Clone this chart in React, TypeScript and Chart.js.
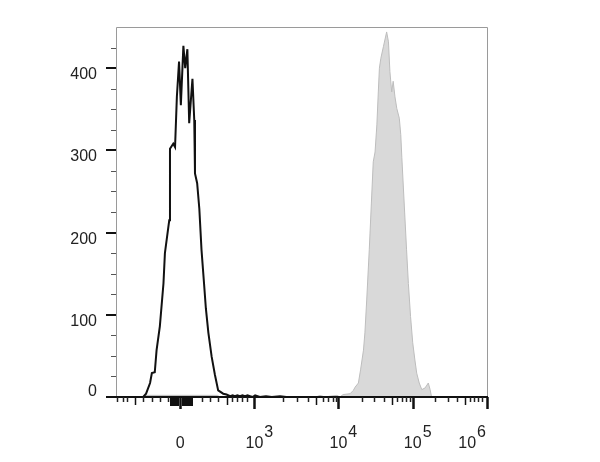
import React, { useEffect, useRef } from "react";
import { Chart, registerables } from "chart.js";

Chart.register(...registerables);

// Histogram bins on a 1024-channel biexponential display axis
const blackChannels = [0, 75, 83, 94, 99, 107, 112, 121, 131, 135, 144, 147, 149, 158, 163, 168, 174, 179, 186, 191, 197, 202, 211, 216, 218, 224, 230, 236, 243, 248, 255, 264, 273, 282, 296, 305, 315, 322, 328, 335, 342, 349, 356, 363, 370, 377, 384, 397, 414, 430, 453, 470, 1024];
const blackCounts = [0, 0, 4, 17, 29, 30, 57, 86, 138, 175, 205, 215, 302, 308, 304, 365, 408, 355, 427, 400, 423, 333, 387, 337, 272, 260, 229, 179, 138, 108, 78, 49, 27, 8, 4, 3, 1, 2, 1, 2, 1, 2, 1, 2, 1, 0, 2, 0, 1, 0, 1, 0, 0];

const grayChannels = [0, 75, 80, 280, 287, 552, 563, 577, 591, 610, 618, 627, 646, 655, 660, 669, 675, 683, 687, 692, 699, 710, 715, 720, 724, 727, 731, 738, 747, 752, 756, 761, 765, 770, 775, 782, 786, 789, 802, 807, 813, 819, 825, 830, 837, 844, 853, 862, 867, 871, 1024];
const grayCounts = [0, 0, 2, 2, 0, 0, 2, 0, 1, 2, 0, 3, 4, 8, 12, 17, 33, 57, 78, 118, 179, 286, 298, 331, 371, 400, 412, 426, 444, 432, 396, 371, 384, 365, 351, 339, 319, 291, 179, 138, 98, 66, 45, 29, 17, 9, 11, 17, 9, 0, 0];

// Axis ticks
const yMajorTicks = [0, 100, 200, 300, 400];
const yMinorTicks = [25, 50, 75, 125, 150, 175, 225, 250, 275, 325, 350, 375, 425];
const xMajorTicks = [177, 382, 614, 819, 1024];
const xMajorBase = ["0", "10", "10", "10", "10"];
const xMajorExp = ["", "3", "4", "5", "6"];
const xMidTicks = [52, 306, 552, 762, 963];
const xMinorTicks = [4, 18, 31, 75, 99, 121, 144, 237, 259, 282, 319, 333, 347, 361, 461, 500, 530, 571, 585, 599, 607, 679, 712, 740, 776, 789, 800, 811, 880, 916, 941, 977, 988, 999, 1010];
const xDenseTicks = [152, 157, 163, 168, 185, 190, 196, 201, 207];

const X_MIN = 0;
const X_MAX = 1024;
const Y_MIN = 0;
const Y_MAX = 450;

const FONT = '16px "Liberation Sans", Arial, sans-serif';

const axesPlugin = {
  id: "flowAxes",
  afterDatasetsDraw(chart: any) {
    const { ctx, chartArea, scales } = chart;
    const { left, right, top, bottom } = chartArea;
    const xs = scales.x;
    const ys = scales.y;
    ctx.save();

    // frame (gray)
    ctx.strokeStyle = "#9a9a9a";
    ctx.lineWidth = 1;
    ctx.beginPath();
    ctx.moveTo(left + 0.5, bottom);
    ctx.lineTo(left + 0.5, top + 0.5);
    ctx.lineTo(right + 0.5, top + 0.5);
    ctx.lineTo(right + 0.5, bottom);
    ctx.stroke();

    // bottom axis (black)
    ctx.strokeStyle = "#111";
    ctx.lineWidth = 2;
    ctx.beginPath();
    ctx.moveTo(left, bottom);
    ctx.lineTo(right + 1, bottom);
    ctx.stroke();

    // y ticks
    const drawY = (v: number, len: number, w: number, color: string) => {
      const py = Math.round(ys.getPixelForValue(v)) + (w % 2 ? 0.5 : 0);
      ctx.strokeStyle = color;
      ctx.lineWidth = w;
      ctx.beginPath();
      ctx.moveTo(left - len, py);
      ctx.lineTo(left, py);
      ctx.stroke();
    };
    yMinorTicks.forEach((v) => drawY(v, 5, 1, "#555"));
    yMajorTicks.forEach((v) => drawY(v, 10, 2, "#111"));

    // y labels
    ctx.font = FONT;
    ctx.fillStyle = "#222";
    ctx.textAlign = "right";
    ctx.textBaseline = "alphabetic";
    yMajorTicks.forEach((v) => {
      let cy = ys.getPixelForValue(v) + 5;
      if (cy > bottom - 8) cy = bottom - 7;
      ctx.fillText(String(v), left - 19, cy + 6);
    });

    // x ticks
    const drawX = (v: number, len: number, w: number, color: string) => {
      const px = Math.round(xs.getPixelForValue(v)) + (w % 2 ? 0.5 : 0);
      ctx.strokeStyle = color;
      ctx.lineWidth = w;
      ctx.beginPath();
      ctx.moveTo(px, bottom);
      ctx.lineTo(px, bottom + len);
      ctx.stroke();
    };
    xMinorTicks.forEach((v) => drawX(v, 5, 1.5, "#222"));
    xMidTicks.forEach((v) => drawX(v, 8, 1.5, "#111"));
    xDenseTicks.forEach((v) => drawX(v, 9, 3, "#111"));
    xMajorTicks.forEach((v) => drawX(v, 12, 2.5, "#111"));

    // x labels: base + superscript exponent
    ctx.font = FONT;
    ctx.fillStyle = "#222";
    ctx.textAlign = "left";
    const baseY = bottom + 51;
    const expY = bottom + 40;
    xMajorTicks.forEach((v, i) => {
      const base = xMajorBase[i];
      const exp = xMajorExp[i];
      const bw = ctx.measureText(base).width;
      const ew = exp ? ctx.measureText(exp).width + 1 : 0;
      const px = xs.getPixelForValue(v);
      let x0 = px - bw / 2;
      if (x0 + bw + ew > right - 1) x0 = right - 1 - bw - ew;
      ctx.fillText(base, x0, baseY);
      if (exp) ctx.fillText(exp, x0 + bw + 1, expY);
    });

    ctx.restore();
  },
};

export default function App() {
  const canvasRef = useRef<HTMLCanvasElement | null>(null);

  useEffect(() => {
    if (!canvasRef.current) return;
    const blackData = blackChannels.map((x, i) => ({ x, y: blackCounts[i] }));
    const grayData = grayChannels.map((x, i) => ({ x, y: grayCounts[i] }));
    const chart = new Chart(canvasRef.current, {
      type: "line",
      data: {
        datasets: [
          {
            label: "Control",
            data: blackData,
            borderColor: "#111",
            borderWidth: 2,
            fill: false,
            pointRadius: 0,
            tension: 0,
            order: 0,
          },
          {
            label: "Stained",
            data: grayData,
            borderColor: "#bdbdbd",
            backgroundColor: "#d9d9d9",
            borderWidth: 1,
            fill: "origin",
            pointRadius: 0,
            tension: 0,
            order: 1,
          },
        ],
      },
      options: {
        responsive: false,
        animation: false,
        layout: { padding: { left: 116, top: 27, right: 113, bottom: 65 } },
        scales: {
          x: { type: "linear", min: X_MIN, max: X_MAX, display: false },
          y: { type: "linear", min: Y_MIN, max: Y_MAX, display: false },
        },
        plugins: {
          legend: { display: false },
          tooltip: { enabled: false },
        },
      },
      plugins: [axesPlugin],
    });
    return () => chart.destroy();
  }, []);

  return (
    <div style={{ position: "fixed", left: 0, top: 0, width: 600, height: 462, background: "#fff" }}>
      <canvas ref={canvasRef} width={600} height={462} style={{ display: "block" }} />
    </div>
  );
}
